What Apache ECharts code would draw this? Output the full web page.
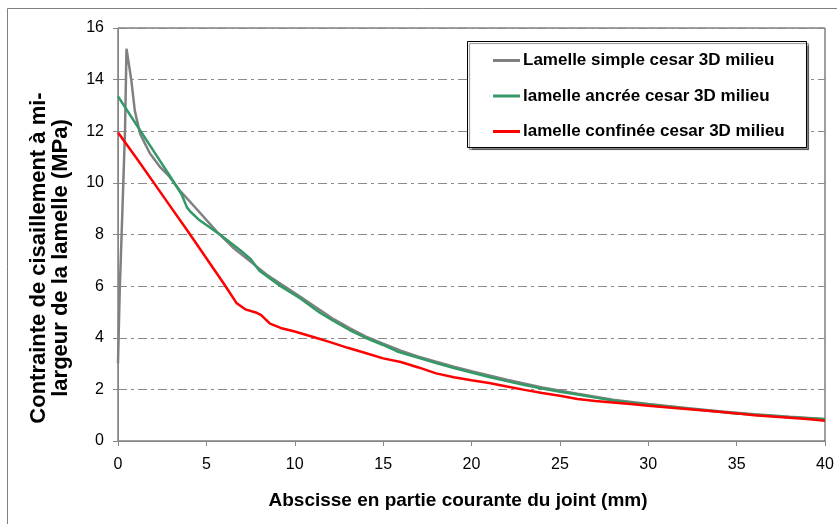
<!DOCTYPE html>
<html><head><meta charset="utf-8">
<script src="https://cdn.jsdelivr.net/npm/echarts@6/dist/echarts.min.js"></script>
<style>html,body{margin:0;padding:0;background:#fff}#c{width:837px;height:524px}</style>
</head><body><div id="c"></div>
<script>
var seriesNames = ['Lamelle simple cesar 3D milieu', 'lamelle ancrée cesar 3D milieu', 'lamelle confinée cesar 3D milieu'];
var xTitle = 'Abscisse en partie courante du joint (mm)';
var yTitle = 'Contrainte de cisaillement à mi-\nlargeur de la lamelle (MPa)';

var simpleX = [0, 0.1, 0.2, 0.3, 0.4, 0.48, 0.75, 0.95, 1.25, 1.8, 2.4, 2.9, 3.5, 4.5, 5.6, 6.5, 7.5, 8.4, 10.3, 12.2, 13.1, 14, 15, 16, 17, 18, 19, 20, 22, 24, 26, 28, 30, 32, 34, 36, 38, 40];
var simpleY = [3.0, 5.9, 7.9, 10.0, 12.1, 15.2, 14.0, 12.8, 11.9, 11.15, 10.6, 10.25, 9.7, 8.95, 8.1, 7.5, 6.95, 6.45, 5.6, 4.72, 4.37, 4.05, 3.77, 3.5, 3.27, 3.07, 2.88, 2.7, 2.37, 2.07, 1.83, 1.6, 1.43, 1.29, 1.15, 1.04, 0.94, 0.85];

var ancreeX = [0, 1, 2, 3, 3.6, 3.9, 4.1, 4.6, 5.8, 6.9, 7.5, 8.0, 8.6, 9.2, 10.3, 11.4, 12.2, 13.1, 14, 15, 15.8, 17, 18, 19, 20, 21, 22, 23, 24, 25, 26, 27, 28, 29, 30, 31, 32, 33, 34, 35, 36, 37, 38, 39, 40];
var ancreeY = [13.35, 12.3, 11.25, 10.2, 9.55, 9.05, 8.88, 8.56, 7.98, 7.4, 7.05, 6.6, 6.3, 6.0, 5.53, 4.98, 4.65, 4.3, 4.0, 3.72, 3.47, 3.22, 3.02, 2.83, 2.65, 2.48, 2.32, 2.17, 2.03, 1.91, 1.8, 1.68, 1.57, 1.48, 1.41, 1.34, 1.27, 1.2, 1.13, 1.07, 1.02, 0.97, 0.92, 0.88, 0.84];

var confineeX = [0, 1, 2, 3, 4, 5, 6, 6.7, 7.2, 7.8, 8.1, 8.6, 9.2, 10, 11, 12, 13, 14, 15, 16, 17, 18, 19, 20, 21, 22, 23, 24, 25, 26, 27, 28, 29, 30, 31, 32, 33, 34, 35, 36, 37, 38, 39, 40];
var confineeY = [11.95, 11.0, 10.03, 9.05, 8.08, 7.08, 6.08, 5.35, 5.1, 4.98, 4.88, 4.55, 4.38, 4.24, 4.04, 3.83, 3.61, 3.41, 3.2, 3.06, 2.85, 2.62, 2.47, 2.35, 2.25, 2.11, 1.98, 1.86, 1.75, 1.63, 1.55, 1.49, 1.43, 1.37, 1.31, 1.25, 1.19, 1.13, 1.07, 1.0, 0.95, 0.9, 0.85, 0.78];

var xMin = 0, xMax = 40, xStep = 5;
var yMin = 0, yMax = 16, yStep = 2;

function pairs(xs, ys) { return xs.map(function (x, i) { return [x, ys[i]]; }); }

var FONT = 'Arial, "Liberation Sans", sans-serif';
var chart = echarts.init(document.getElementById('c'), null, {renderer: 'canvas'});
chart.setOption({
  backgroundColor: '#fff',
  animation: false,
  grid: {left: 118, top: 28, right: 12, bottom: 83, show: true, borderColor: '#404040', borderWidth: 1, backgroundColor: '#fff'},
  xAxis: {
    type: 'value', min: xMin, max: xMax, interval: xStep,
    axisLine: {show: true, lineStyle: {color: '#868686', width: 1}},
    axisTick: {show: true, inside: false, length: 5, lineStyle: {color: '#868686'}},
    axisLabel: {color: '#000', fontFamily: FONT, fontSize: 16, margin: 16},
    splitLine: {show: false}
  },
  yAxis: {
    type: 'value', min: yMin, max: yMax, interval: yStep,
    axisLine: {show: true, lineStyle: {color: '#868686', width: 1}},
    axisTick: {show: true, inside: false, length: 5, lineStyle: {color: '#868686'}},
    axisLabel: {color: '#000', fontFamily: FONT, fontSize: 16, margin: 14},
    splitLine: {show: true, lineStyle: {color: '#8a8a8a', width: 1, type: [9, 4, 3, 4]}}
  },
  legend: {
    orient: 'vertical', left: 493, top: 52, z: 10, padding: 0,
    icon: 'rect', itemWidth: 27, itemHeight: 3, itemGap: 18.5, selectedMode: false,
    textStyle: {color: '#000', fontFamily: FONT, fontSize: 17, fontWeight: 'bold', padding: [0,0,0,-2]},
    data: seriesNames
  },
  graphic: [
    {type: 'rect', z: -10, silent: true, shape: {x: 7.5, y: 8.5, width: 840, height: 530}, style: {fill: 'none', stroke: '#808080', lineWidth: 1}},
    {type: 'rect', z: 5, silent: true, shape: {x: 467.5, y: 41.5, width: 339, height: 106}, style: {fill: '#fff', stroke: '#000', lineWidth: 1, shadowColor: 'rgba(0,0,0,0.45)', shadowOffsetX: 2, shadowOffsetY: 2, shadowBlur: 1}},
    {type: 'text', z: 5, silent: true, x: 50, y: 258, rotation: Math.PI / 2, style: {text: yTitle, fill: '#000', font: 'bold 22px ' + FONT, align: 'center', verticalAlign: 'middle', lineHeight: 22}},
    {type: 'text', z: 5, silent: true, x: 458, y: 501, style: {text: xTitle, fill: '#000', font: 'bold 19px ' + FONT, align: 'center', verticalAlign: 'middle'}}
  ],
  series: [
    {name: seriesNames[0], type: 'line', symbol: 'none', z: 2, data: pairs(simpleX, simpleY), lineStyle: {color: '#808080', width: 2.5}, itemStyle: {color: '#808080'}},
    {name: seriesNames[1], type: 'line', symbol: 'none', z: 3, data: pairs(ancreeX, ancreeY), lineStyle: {color: '#339966', width: 2.5}, itemStyle: {color: '#339966'}},
    {name: seriesNames[2], type: 'line', symbol: 'none', z: 4, data: pairs(confineeX, confineeY), lineStyle: {color: '#ff0000', width: 2.5}, itemStyle: {color: '#ff0000'}}
  ]
});
</script>
</body></html>
